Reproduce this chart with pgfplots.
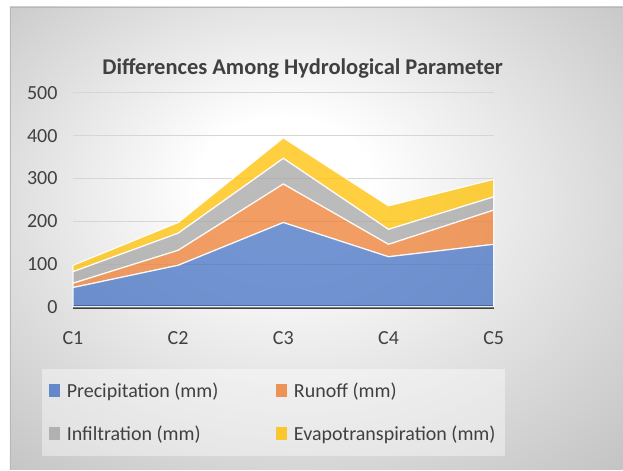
\documentclass[border=0pt]{standalone}
\usepackage{fontspec}
\setmainfont{Carlito}
\usepackage{pgfplots}
\pgfplotsset{compat=1.18}

\definecolor{cblue}{HTML}{4472C4}
\definecolor{corange}{HTML}{ED7D31}
\definecolor{cgray}{HTML}{A5A5A5}
\definecolor{cyellow}{HTML}{FFC000}
\definecolor{textgray}{HTML}{404040}

\pgfdeclareradialshading{chartbg}{\pgfpoint{-3bp}{7bp}}{%
  color(0bp)=(white); color(7bp)=(white); color(38bp)=(black!24); color(50bp)=(black!24)}

\begin{document}
\begin{tikzpicture}
\fill[white] (0,0) rectangle (623bp,470bp);
\shade[shading=chartbg] (10bp,0bp) rectangle (623bp,463bp);
\draw[black!28, line width=0.8bp] (10.4bp,0bp) -- (10.4bp,462.6bp) -- (623bp,462.6bp);

\begin{axis}[
    scale only axis,
    width=421bp,
    height=214bp,
    at={(73bp,163bp)},
    anchor=south west,
    clip=false,
    xmin=1, xmax=5,
    ymin=0, ymax=500,
    xtick={1,2,3,4,5},
    xticklabels={C1,C2,C3,C4,C5},
    ytick={0,100,...,500},
    axis x line*=bottom,
    axis y line*=left,
    x axis line style={draw=none},
    y axis line style={draw=none},
    major tick length=0pt,
    ymajorgrids,
    grid style={draw=black!16, line width=1bp},
    tick label style={font=\fontsize{20bp}{24bp}\selectfont, text=textgray},
    /pgf/number format/assume math mode=true,
    yticklabel style={xshift=-12bp},
    xticklabel style={yshift=-21bp},
    title={Differences Among Hydrological Parameter},
    title style={font=\bfseries\fontsize{22.5bp}{27bp}\selectfont, text=textgray,
        at={(axis description cs:0.546,1.085)}, anchor=center},
    stack plots=y,
    every axis plot/.append style={mark=none, line width=1.2bp, draw=white, draw opacity=0.9, fill opacity=0.75},
    legend columns=2,
    legend cell align=left,
    legend style={at={(axis description cs:-0.0736,-0.2897)}, anchor=north west,
        draw=none, fill=white, fill opacity=0.4, text opacity=1,
        font=\fontsize{20bp}{24bp}\selectfont, text=textgray,
        inner xsep=7bp, inner ysep=12bp, row sep=23bp,
        /tikz/every even column/.append style={column sep=56bp}},
    legend image code/.code={\fill[#1, draw=none, fill opacity=0.8] (0bp,-6bp) rectangle (11bp,7bp);
        \path (15bp,0bp);},
]
\addplot[fill=cblue] coordinates {(1,45) (2,97) (3,197) (4,117) (5,146)} \closedcycle;
\addplot[fill=corange] coordinates {(1,10) (2,35) (3,90) (4,29) (5,80)} \closedcycle;
\addplot[fill=cgray] coordinates {(1,27) (2,40) (3,60) (4,35) (5,31)} \closedcycle;
\addplot[fill=cyellow] coordinates {(1,15) (2,25) (3,48) (4,55) (5,41)} \closedcycle;
\draw[textgray, line width=4bp] (axis cs:1,0) -- (axis cs:5,0);
\legend{Precipitation (mm), Runoff (mm), Infiltration (mm), Evapotranspiration (mm)}
\end{axis}
\end{tikzpicture}
\end{document}
